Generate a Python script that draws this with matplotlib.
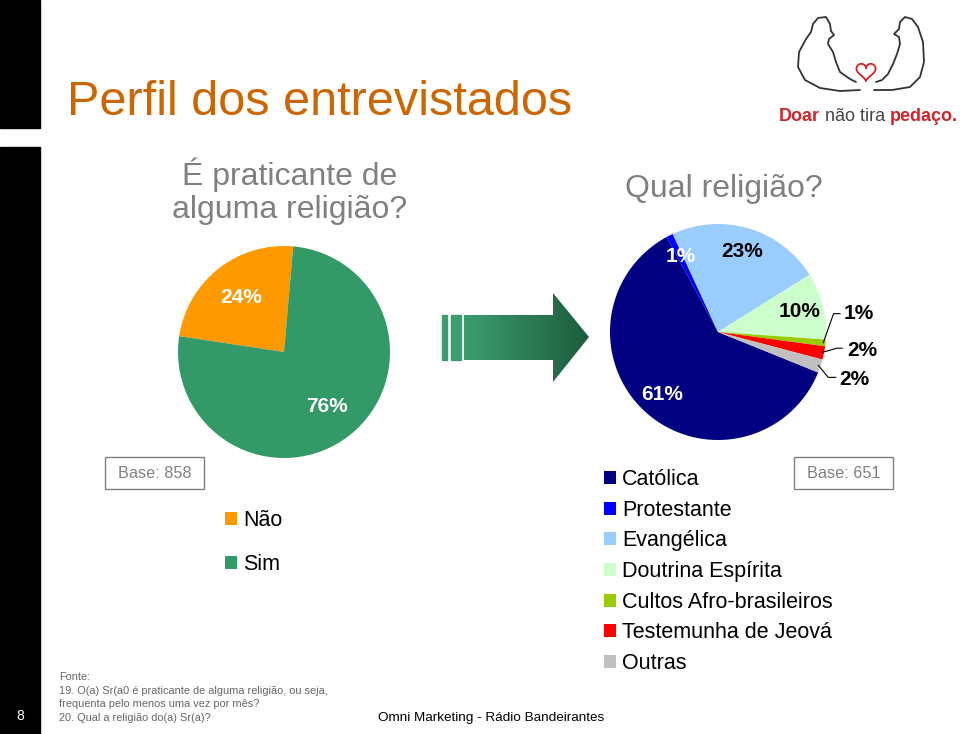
import numpy as np
import matplotlib
matplotlib.use('Agg')
import matplotlib.pyplot as plt
from matplotlib.patches import Rectangle, Polygon
from matplotlib.colors import LinearSegmentedColormap

plt.rcParams['font.family'] = ['Liberation Sans', 'DejaVu Sans']

W, H = 960, 734

# Pie 1: "É praticante de alguma religião?"
praticante_labels = ['Não', 'Sim']
praticante_values = [24, 76]
praticante_colors = ['#FF9900', '#339966']
praticante_text = ['white', 'white']
praticante_base = 'Base: 858'

# Pie 2: "Qual religião?"
religiao_labels = ['Católica', 'Protestante', 'Evangélica', 'Doutrina Espírita',
                   'Cultos Afro-brasileiros', 'Testemunha de Jeová', 'Outras']
religiao_values = [61, 1, 23, 10, 1, 2, 2]
religiao_colors = ['#000080', '#0000FF', '#99CCFF', '#CCFFCC',
                   '#99CC00', '#FF0000', '#C0C0C0']
religiao_text = ['white', 'white', 'black', 'black', None, None, None]
religiao_base = 'Base: 651'

fonte_lines = ['Fonte:',
               '19. O(a) Sr(a0 é praticante de alguma religião, ou seja,',
               'frequenta pelo menos uma vez por mês?',
               '20. Qual a religião do(a) Sr(a)?']

fig = plt.figure(figsize=(W / 100, H / 100), dpi=100)
fig.patch.set_facecolor('white')

# full-figure axes in pixel coordinates for the decoration
bg = fig.add_axes([0, 0, 1, 1])
bg.set_xlim(0, W)
bg.set_ylim(H, 0)
bg.axis('off')

# black side bars + page number
bg.add_patch(Rectangle((0, 0), 40, 128, color='black'))
bg.add_patch(Rectangle((0, 147), 40, H - 147, color='black'))
bg.text(20, 720, '8', color='white', fontsize=10, ha='center', va='baseline')

# titles
bg.text(67, 115, 'Perfil dos entrevistados', color='#CC6600', fontsize=35,
        ha='left', va='baseline')
grey = '#808080'
bg.text(290, 185, 'É praticante de', color=grey, fontsize=23, ha='center', va='baseline')
bg.text(290, 218, 'alguma religião?', color=grey, fontsize=23, ha='center', va='baseline')
bg.text(724, 197, 'Qual religião?', color=grey, fontsize=23, ha='center', va='baseline')

# arrow with gradient
arrow = Polygon([(464, 315), (553, 315), (553, 293), (589, 337), (553, 382),
                 (553, 360), (464, 360)], closed=True, facecolor='none', edgecolor='none')
bg.add_patch(arrow)
cmap = LinearSegmentedColormap.from_list('g', ['#3C9E6E', '#1E5B3D'])
grad = np.linspace(0, 1, 256).reshape(1, -1)
im = bg.imshow(grad, cmap=cmap, extent=[464, 589, 382, 293], aspect='auto')
im.set_clip_path(arrow)
bg.add_patch(Rectangle((442, 315), 5, 45, color='#3C9E6E'))
bg.add_patch(Rectangle((451, 315), 10, 45, color='#3C9E6E'))
bg.set_xlim(0, W)
bg.set_ylim(H, 0)

# base boxes
for (x0, label) in [(105, praticante_base), (794, religiao_base)]:
    bg.add_patch(Rectangle((x0, 457), 99, 32, facecolor='none', edgecolor=grey, lw=1))
    bg.text(x0 + 49.5, 474, label, color=grey, fontsize=11.7, ha='center', va='center')

# footnotes
for i, line in enumerate(fonte_lines):
    bg.text(59, 680 + i * 13.7, line, color='#666666', fontsize=7.9, ha='left', va='baseline')
bg.text(378, 721, 'Omni Marketing - Rádio Bandeirantes', color='black', fontsize=9.7,
        ha='left', va='baseline')

# logo: two figures holding a heart
left_fig = [(860, 90), (840, 91), (820, 88), (805, 80), (798, 67), (799, 52), (806, 39),
            (811, 32), (813, 24), (818, 18), (826, 17), (830, 24), (831, 31), (834, 35),
            (829, 39), (828, 44), (833, 52), (836, 62), (840, 72), (850, 79), (856, 82)]
bg.plot(*zip(*left_fig), color='#333333', lw=1.3, solid_capstyle='round')
right_fig = [(874, 90), (892, 90), (910, 87), (920, 77), (924, 62), (923, 42), (918, 27),
             (912, 19), (905, 17), (900, 22), (899, 29), (894, 34), (899, 37), (900, 44),
             (897, 54), (893, 64), (888, 74), (882, 80), (876, 82)]
bg.plot(*zip(*right_fig), color='#333333', lw=1.3, solid_capstyle='round')
t = np.linspace(0, 2 * np.pi, 100)
hx = 16 * np.sin(t) ** 3
hy = 13 * np.cos(t) - 5 * np.cos(2 * t) - 2 * np.cos(3 * t) - np.cos(4 * t)
bg.plot(866 + hx * 0.6, 71 - hy * 0.6, color='#D2232A', lw=1.3)

t1 = bg.text(779, 121, 'Doar', color='#D2232A', fontsize=13, fontweight='bold',
             ha='left', va='baseline')
t2 = bg.annotate(' não tira ', xy=(1, 0), xycoords=t1, va='bottom', ha='left',
                 color='#444444', fontsize=13)
bg.annotate('pedaço.', xy=(1, 0), xycoords=t2, va='bottom', ha='left',
            color='#D2232A', fontsize=13, fontweight='bold')


def pie_axes(cx, cy, r):
    return fig.add_axes([(cx - r) / W, 1 - (cy + r) / H, 2 * r / W, 2 * r / H])


def mid_point(w, dist):
    a = np.deg2rad((w.theta1 + w.theta2) / 2)
    return dist * np.cos(a), dist * np.sin(a)


# left pie
ax1 = pie_axes(284, 352, 106)
w1, _ = ax1.pie(praticante_values, colors=praticante_colors, startangle=85)
ax1.set_xlim(-1, 1)
ax1.set_ylim(-1, 1)
for w, v, c in zip(w1, praticante_values, praticante_text):
    x, y = mid_point(w, 0.66)
    ax1.text(x, y, f'{v}%', color=c, fontsize=15, fontweight='bold', ha='center', va='center')

# right pie
ax2 = pie_axes(718, 332, 108)
w2, _ = ax2.pie(religiao_values, colors=religiao_colors, startangle=-22, counterclock=False)
ax2.set_xlim(-1, 1)
ax2.set_ylim(-1, 1)
for w, v, c in zip(w2, religiao_values, religiao_text):
    if c is None:
        continue
    x, y = mid_point(w, 0.78)
    ax2.text(x, y, f'{v}%', color=c, fontsize=15, fontweight='bold', ha='center', va='center')

# small slices: labels outside with leader lines (elbow, line end, text position)
outside = {4: ((1.07, 0.17), (1.13, 0.17), (1.16, 0.17)),
           5: ((1.10, -0.15), (1.15, -0.15), (1.20, -0.17)),
           6: ((1.02, -0.42), (1.09, -0.42), (1.12, -0.44))}
for i, (elbow, end, pos) in outside.items():
    x0, y0 = mid_point(w2[i], 0.98)
    ax2.plot([x0, elbow[0], end[0]], [y0, elbow[1], end[1]], color='black', lw=0.8,
             clip_on=False)
    ax2.text(pos[0], pos[1], f'{religiao_values[i]}%', color='black', fontsize=15,
             fontweight='bold', ha='left', va='center', clip_on=False)

# legends
fig.legend(w1, praticante_labels, loc='upper left', bbox_to_anchor=(225 / W, 1 - 510 / H),
           frameon=False, fontsize=15.5, handlelength=0.55, handleheight=0.55,
           handletextpad=0.3, labelspacing=1.09, borderpad=0, borderaxespad=0)
fig.legend(w2, religiao_labels, loc='upper left', bbox_to_anchor=(604 / W, 1 - 469 / H),
           frameon=False, fontsize=15.5, handlelength=0.55, handleheight=0.55,
           handletextpad=0.3, labelspacing=0.45, borderpad=0, borderaxespad=0)

fig.savefig('out.png', dpi=100, facecolor='white')
